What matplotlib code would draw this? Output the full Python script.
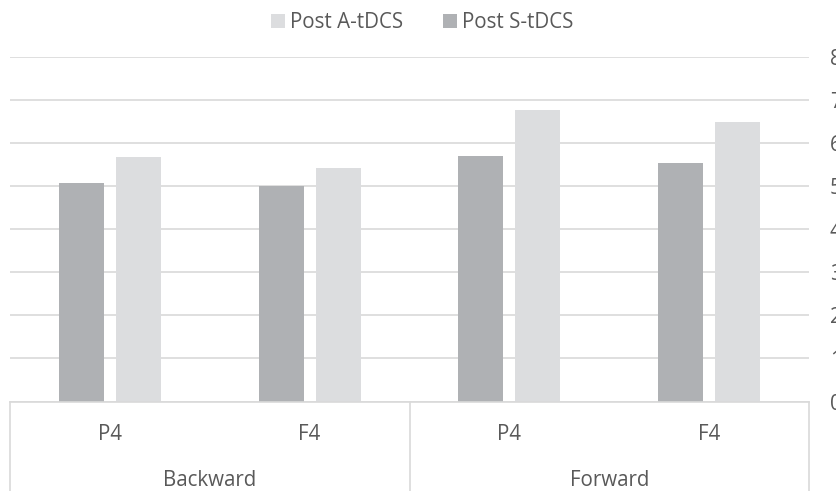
import matplotlib
matplotlib.use("Agg")
import matplotlib.pyplot as plt
import matplotlib.transforms as mtransforms
from matplotlib.patches import Patch
import numpy as np

plt.rcParams['font.family'] = ['Open Sans', 'DejaVu Sans']

# Data
groups = ["Backward", "Forward"]
electrodes = ["P4", "F4", "P4", "F4"]
post_s_tdcs = [5.07, 5.0, 5.70, 5.53]
post_a_tdcs = [5.68, 5.43, 6.77, 6.50]
y_ticks = [0, 1, 2, 3, 4, 5, 6, 7, 8]

dark = "#AFB1B4"
light = "#DCDDDF"
grid_c = "#D9D9D9"
text_c = "#595959"
fs = 14.8

W, H = 837, 491
fig = plt.figure(figsize=(W / 100, H / 100), dpi=100)
ax = fig.add_axes([10 / W, (H - 401.5) / H, (809 - 10) / W, (401.5 - 57) / H])

x = np.arange(len(electrodes))
bw = 0.225
off = 0.143
ax.bar(x - off, post_s_tdcs, width=bw, color=dark, zorder=3)
ax.bar(x + off, post_a_tdcs, width=bw, color=light, zorder=3)

ax.set_xlim(-0.5, len(electrodes) - 0.5)
ax.set_ylim(0, 8)
ax.set_yticks(y_ticks)
ax.yaxis.tick_right()
ax.tick_params(axis='y', length=0, pad=15, labelsize=fs, labelcolor=text_c)
ax.tick_params(axis='x', length=0, labelbottom=False)
ax.grid(axis='y', color=grid_c, linewidth=1.2, zorder=0)
for s in ["top", "left", "right"]:
    ax.spines[s].set_visible(False)
ax.spines["bottom"].set_color(grid_c)
ax.spines["bottom"].set_linewidth(1.2)
ax.spines["bottom"].set_zorder(4)

# Two-level category axis drawn beneath the plot
trans = mtransforms.blended_transform_factory(ax.transData, fig.transFigure)
for xi, lab in zip(x, electrodes):
    ax.text(xi, (H - 440) / H, lab, transform=trans, ha='center', va='baseline',
            fontsize=fs, color=text_c)
for gi, g in enumerate(groups):
    ax.text(gi * 2 + 0.5, (H - 486) / H, g, transform=trans, ha='center', va='baseline',
            fontsize=fs, color=text_c)
for xb in [-0.5, 1.5, 3.5]:
    ax.plot([xb, xb], [(H - 401.5) / H, 0], transform=trans, color=grid_c,
            linewidth=1.2, clip_on=False, zorder=4)

# Legend
handles = [Patch(facecolor=light, label="Post A-tDCS"),
           Patch(facecolor=dark, label="Post S-tDCS")]
fig.legend(handles=handles, loc='center', bbox_to_anchor=(422 / W, (H - 22.5) / H),
           ncol=2, frameon=False, fontsize=fs, labelcolor=text_c,
           handlelength=0.67, handleheight=0.67, handletextpad=0.25,
           columnspacing=1.95, borderpad=0)

fig.savefig("out.png", dpi=100)
